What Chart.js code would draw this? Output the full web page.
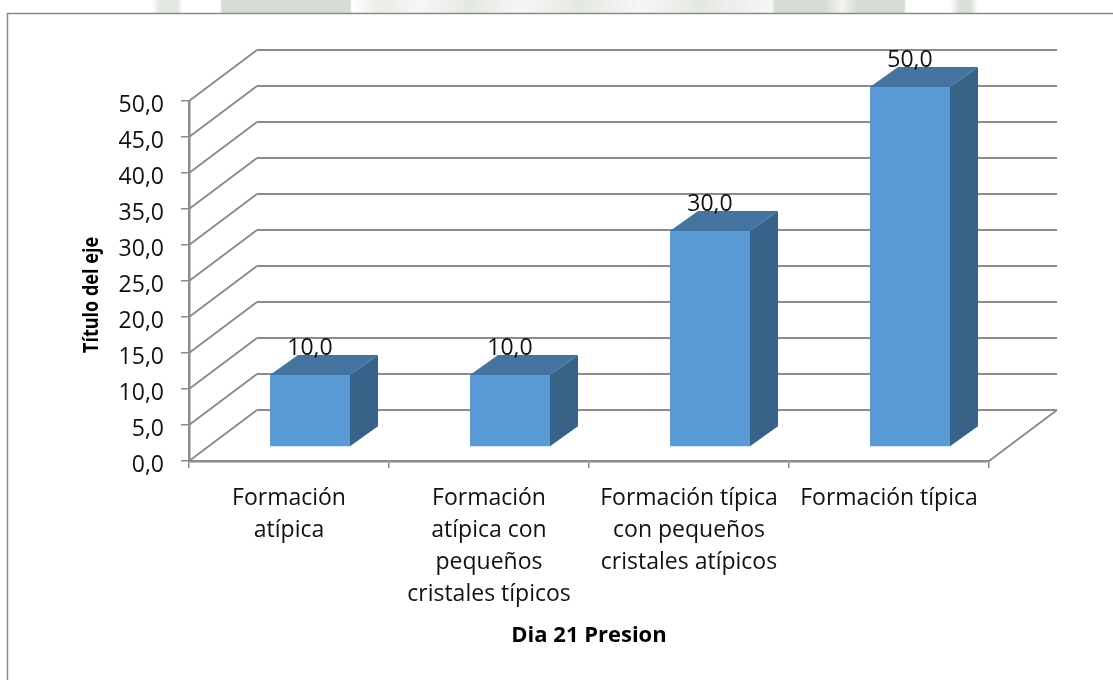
<!DOCTYPE html>
<html>
<head>
<meta charset="utf-8">
<title>Dia 21 Presion</title>
<script src="https://cdn.jsdelivr.net/npm/chart.js@4"></script>
<style>
  html, body { margin: 0; padding: 0; background: #fff; overflow: hidden; }
  /* faint watermark of the scanned page, only visible above the frame */
  #strip {
    position: absolute; left: 0; top: 0; width: 1113px; height: 13px;
    background: linear-gradient(90deg,
      #fff 152px, #e4e8e2 160px, #e4e8e2 178px, #fff 182px,
      #fff 220px, #d5dcd3 222px, #d5dcd3 350px, #fff 352px,
      #e9ece7 380px, #f6f7f5 420px, #e4e8e2 470px, #f6f7f5 520px, #e4e8e2 580px,
      #f6f7f5 640px, #e4e8e2 700px, #f6f7f5 772px,
      #d5dcd3 775px, #d5dcd3 825px, #f2f4f1 842px, #d5dcd3 858px, #d5dcd3 904px, #fff 906px,
      #fff 950px, #d9ded7 960px, #d9ded7 970px, #fff 978px);
  }
  #chart { position: absolute; left: 0; top: 0; }
</style>
</head>
<body>
<div id="strip"></div>
<canvas id="chart" width="1113" height="680"></canvas>
<script>
// ===== DATA =====
const categories = [
  ["Formación", "atípica"],
  ["Formación", "atípica con", "pequeños", "cristales típicos"],
  ["Formación típica", "con pequeños", "cristales atípicos"],
  "Formación típica"
];
const values = [10, 10, 30, 50];
const xTitle = "Dia 21 Presion";
const yTitle = "Título del eje";

// ===== 3D LOOK =====
const GRID = "#8c8c8c";
const FONT = "'Open Sans'";
const wall = { dx: 68, dy: -51 };    // back wall offset
const barFront = { dx: 21, dy: -14 };
const barDepth = { dx: 28, dy: -20 };

function label(v) {
  return v.toFixed(1).replace(".", ",");
}

const depthPlugin = {
  id: "depth",
  beforeDraw(chart) {
    const ctx = chart.ctx;
    ctx.save();
    ctx.strokeStyle = "#8a8a8a";
    ctx.lineWidth = 1.5;
    ctx.beginPath();
    ctx.moveTo(7.5, chart.height);
    ctx.lineTo(7.5, 13.5);
    ctx.lineTo(chart.width, 13.5);
    ctx.stroke();
    ctx.restore();
  },
  beforeDatasetsDraw(chart) {
    const { ctx, scales: { x, y } } = chart;
    const right = x.right;
    const left = x.left;
    ctx.save();
    ctx.strokeStyle = GRID;
    ctx.lineJoin = "round";
    y.ticks.forEach(t => {
      const py = y.getPixelForValue(t.value);
      ctx.lineWidth = 2;
      ctx.beginPath();
      ctx.moveTo(left, py);
      ctx.lineTo(left + wall.dx, py + wall.dy);
      ctx.stroke();
      ctx.lineWidth = 2.2;
      ctx.beginPath();
      ctx.moveTo(left + wall.dx, py + wall.dy);
      ctx.lineTo(right + wall.dx, py + wall.dy);
      ctx.stroke();
    });
    // floor closing edge
    const py0 = y.getPixelForValue(0);
    ctx.lineWidth = 2;
    ctx.beginPath();
    ctx.moveTo(right, py0);
    ctx.lineTo(right + wall.dx, py0 + wall.dy);
    ctx.stroke();
    ctx.restore();
  },
  beforeDatasetDraw(chart) {
    chart.ctx.save();
    chart.ctx.translate(barFront.dx, barFront.dy);
  },
  afterDatasetDraw(chart) {
    chart.ctx.restore();
  },
  afterDatasetsDraw(chart) {
    const ctx = chart.ctx;
    const meta = chart.getDatasetMeta(0);
    ctx.save();
    ctx.translate(barFront.dx, barFront.dy);
    meta.data.forEach((bar, i) => {
      const l = bar.x - bar.width / 2;
      const r = bar.x + bar.width / 2;
      // top face
      ctx.fillStyle = "#44749f";
      ctx.beginPath();
      ctx.moveTo(l, bar.y);
      ctx.lineTo(l + barDepth.dx, bar.y + barDepth.dy);
      ctx.lineTo(r + barDepth.dx, bar.y + barDepth.dy);
      ctx.lineTo(r, bar.y);
      ctx.closePath();
      ctx.fill();
      // side face
      ctx.fillStyle = "#386288";
      ctx.beginPath();
      ctx.moveTo(r, bar.y);
      ctx.lineTo(r + barDepth.dx, bar.y + barDepth.dy);
      ctx.lineTo(r + barDepth.dx, bar.base + barDepth.dy);
      ctx.lineTo(r, bar.base);
      ctx.closePath();
      ctx.fill();
      // value label
      ctx.fillStyle = "#111";
      ctx.font = "23px " + FONT;
      ctx.textAlign = "center";
      ctx.textBaseline = "middle";
      ctx.fillText(label(values[i]), bar.x, bar.y - 27);
    });
    ctx.restore();

    // y axis title sits lower than the plot centre in the original
    ctx.save();
    ctx.translate(92, 295);
    ctx.rotate(-Math.PI / 2);
    ctx.scale(0.82, 1);
    ctx.fillStyle = "#000";
    ctx.font = "bold 22px " + FONT;
    ctx.textAlign = "center";
    ctx.textBaseline = "middle";
    ctx.fillText(yTitle, 0, 0);
    ctx.restore();
  }
};

new Chart(document.getElementById("chart"), {
  type: "bar",
  data: {
    labels: categories,
    datasets: [{
      data: values,
      backgroundColor: "#5b9bd5",
      borderWidth: 0,
      categoryPercentage: 1,
      barPercentage: 0.4
    }]
  },
  options: {
    responsive: false,
    animation: false,
    layout: { padding: { left: 100, right: 124, top: 101, bottom: 30 } },
    plugins: { legend: { display: false }, tooltip: { enabled: false } },
    scales: {
      x: {
        grid: { drawOnChartArea: false, drawTicks: true, tickLength: 7, color: GRID, lineWidth: 1.5 },
        border: { color: GRID, width: 2.5 },
        ticks: { color: "#111", font: { family: FONT, size: 23, lineHeight: 32 / 23 }, maxRotation: 0, autoSkip: false, padding: 14 },
        title: { display: true, text: xTitle, color: "#000", font: { family: FONT, size: 22, weight: "bold" }, padding: { top: 12, bottom: 1 } },
        afterFit(scale) { scale.height = 189; }
      },
      y: {
        min: 0,
        max: 50,
        grid: { drawOnChartArea: false, drawTicks: true, tickLength: 8, color: GRID, lineWidth: 1.5 },
        border: { color: GRID, width: 2.5 },
        ticks: {
          stepSize: 5,
          color: "#111",
          font: { family: FONT, size: 23, lineHeight: 9 / 23 },
          padding: 17,
          // empty first line nudges the text a little below its tick, as in the original
          callback: v => ["", label(v)]
        },
        afterFit(scale) { scale.width = 89; }
      }
    }
  },
  plugins: [depthPlugin]
});
</script>
</body>
</html>
